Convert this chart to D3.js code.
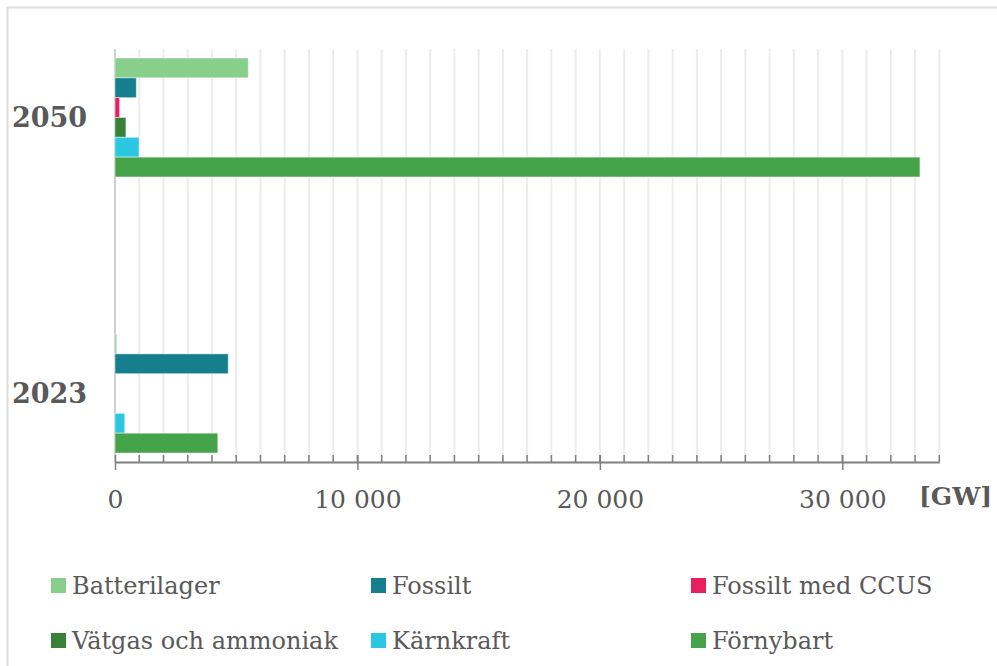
<!DOCTYPE html>
<html>
<head>
<meta charset="utf-8">
<script src="https://cdn.jsdelivr.net/npm/d3@7"></script>
<style>
    body { margin: 0; background: #fff; }
    svg { display: block; font-family: "DejaVu Serif", Georgia, serif; }
</style>
</head>
<body>
<svg id="chart" width="997" height="666"></svg>
<script>
// values in GW
const years = ['2050', '2023'];
const series = ['Batterilager', 'Fossilt', 'Fossilt med CCUS', 'Vätgas och ammoniak', 'Kärnkraft', 'Förnybart'];
const values_2050 = [5500, 880, 190, 450, 990, 33200];
const values_2023 = [70, 4670, 0, 0, 400, 4240];
const colors = ['#88cf8b', '#167f8e', '#e8215e', '#378139', '#29c7e0', '#45a349'];
const ticks_major = [0, 10000, 20000, 30000];
const x_max = 34000;

const rows = {'2050': values_2050, '2023': values_2023};

const svg = d3.select('#chart');
const text_color = '#595959';

// frame lines (top + left)
svg.append('line').attr('x1', 7).attr('x2', 997).attr('y1', 7.5).attr('y2', 7.5)
    .attr('stroke', '#dcdcdc').attr('stroke-width', 2);
svg.append('line').attr('x1', 7.5).attr('x2', 7.5).attr('y1', 7).attr('y2', 666)
    .attr('stroke', '#dcdcdc').attr('stroke-width', 2);

let x = d3.scaleLinear().domain([0, x_max]).range([115, 939.3]);
let y = d3.scaleBand().domain(years).range([49, 462])
    .paddingInner(0.569).paddingOuter(0.0326);
let y_inner = d3.scaleBand().domain(series).range([0, y.bandwidth()]);
let color = d3.scaleOrdinal().domain(series).range(colors);

// grid every 1000
let grid = svg.append('g');
grid.selectAll('line')
    .data(d3.range(1000, x_max + 1, 1000))
    .enter().append('line')
    .attr('x1', d => x(d)).attr('x2', d => x(d))
    .attr('y1', 49).attr('y2', 462)
    .attr('stroke', '#ececec').attr('stroke-width', 2);
svg.append('line')
    .attr('x1', x(0)).attr('x2', x(0)).attr('y1', 49).attr('y2', 462)
    .attr('stroke', '#cfcfcf').attr('stroke-width', 2);

// bars
let groups = svg.append('g').selectAll('g')
    .data(years)
    .enter().append('g')
    .attr('transform', d => 'translate(0,' + y(d) + ')');

groups.selectAll('rect')
    .data(yr => series.map((s, i) => ({name: s, value: rows[yr][i]})))
    .enter().append('rect')
    .filter(d => d.value > 0)
    .attr('x', x(0))
    .attr('y', d => y_inner(d.name))
    .attr('width', d => x(d.value) - x(0))
    .attr('height', y_inner.bandwidth())
    .attr('fill', d => color(d.name))
    .attr('stroke', 'rgba(255,255,255,0.45)')
    .attr('stroke-width', 1);

// year labels
svg.append('g').selectAll('text')
    .data(years)
    .enter().append('text')
    .attr('x', 12)
    .attr('y', d => y(d) + y.bandwidth() / 2)
    .attr('dy', '0.36em')
    .attr('font-size', 27)
    .attr('font-weight', 'bold')
    .attr('fill', text_color)
    .text(d => d);

// axis: minor ticks up, major ticks down
let axis_y = 462;
svg.append('g').selectAll('line')
    .data(d3.range(1000, x_max + 1, 1000))
    .enter().append('line')
    .attr('x1', d => x(d)).attr('x2', d => x(d))
    .attr('y1', axis_y - 7).attr('y2', axis_y)
    .attr('stroke', '#808080').attr('stroke-width', 1.5);

let fmt = v => d3.format(',')(v).replace(/,/g, ' ');
let x_axis = d3.axisBottom(x).tickValues(ticks_major).tickSize(8).tickSizeOuter(0).tickFormat(fmt);
let gx = svg.append('g').attr('transform', 'translate(0,' + axis_y + ')').call(x_axis);
gx.select('.domain').attr('stroke', '#808080').attr('stroke-width', 2);
gx.selectAll('.tick line').attr('stroke', '#808080').attr('stroke-width', 1.5).attr('y1', -7);
gx.selectAll('.tick text')
    .attr('y', 46).attr('dy', 0)
    .attr('font-size', 25)
    .attr('font-family', '"DejaVu Serif", serif')
    .attr('fill', text_color);

svg.append('text')
    .attr('x', 919).attr('y', 505)
    .attr('font-size', 25).attr('font-weight', 'bold')
    .attr('fill', text_color)
    .text('[GW]');

// legend, 3 columns x 2 rows
let legend = svg.append('g').selectAll('g')
    .data(series)
    .enter().append('g')
    .attr('transform', (d, i) => 'translate(' + [51, 371, 691][i % 3] + ',' + [578, 633][Math.floor(i / 3)] + ')');
legend.append('rect')
    .attr('width', 15).attr('height', 15)
    .attr('fill', d => color(d));
legend.append('text')
    .attr('x', 21).attr('y', 16)
    .attr('font-size', 24)
    .attr('fill', text_color)
    .text(d => d);
</script>
</body>
</html>
